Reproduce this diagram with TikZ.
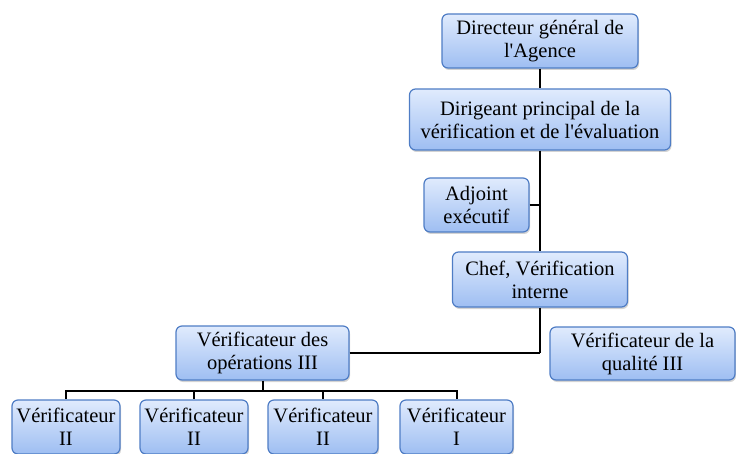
\documentclass[tikz,border=0pt]{standalone}
\usepackage{fontspec}
\setmainfont{Liberation Serif}[Ligatures=TeXOff]
\usetikzlibrary{shadows}
\definecolor{boxtop}{RGB}{224,235,253}
\definecolor{boxbot}{RGB}{158,190,242}
\definecolor{boxrim}{RGB}{79,125,197}

\begin{document}
\begin{tikzpicture}[
    x=1pt, y=-1pt,
    link/.style={draw=black, line width=2pt},
    post/.style={draw=boxrim, line width=1.2pt, rounded corners=6pt,
      top color=boxtop, bottom color=boxbot, align=center,
      font=\fontsize{20.5}{23}\selectfont, inner sep=2pt, minimum height=54pt,
      drop shadow={opacity=0.35, shadow xshift=1pt, shadow yshift=-2pt}},
  ]

  \useasboundingbox (0,0) rectangle (736,454);

  % the top of the chain
  \node[post, minimum width=196pt] (dg) at (540,41) {Directeur général de\\l'Agence};
  \node[post, minimum width=261pt, minimum height=61pt] (dp) at (540,119.5) {Dirigeant principal de la\\vérification et de l'évaluation};
  \node[post, minimum width=105pt] (adj) at (476.5,205) {Adjoint\\exécutif};
  \node[post, minimum width=175pt, minimum height=55pt] (chef) at (540,279.5) {Chef, Vérification\\interne};
  \coordinate (fork) at (540,353);

  % the two branches under the chief
  \node[post, minimum width=173pt] (ops) at (262.5,353) {Vérificateur des\\opérations III};
  \node[post, minimum width=185pt, minimum height=53pt] (qual) at (642.5,353.5) {Vérificateur de la\\qualité III};

  % the auditors
  \node[post, minimum width=108pt] (v1) at (66,427) {Vérificateur\\II};
  \node[post, minimum width=108pt] (v2) at (194,427) {Vérificateur\\II};
  \node[post, minimum width=110pt] (v3) at (323,427) {Vérificateur\\II};
  \node[post, minimum width=113pt] (v4) at (456.5,427) {Vérificateur\\I};

  \draw[link] (dg.south) -- (dp.north);
  \draw[link] (dp.south) -- (chef.north);
  \draw[link] (adj.east) -- (adj.east -| chef.north);
  \draw[link] (chef.south) -- (fork);
  \draw[link] (ops.east) -- (fork);
  \draw[link] (ops.south) -- ++(0,10) coordinate (bus);
  \foreach \v in {v1,v2,v3,v4}
    \draw[link] (bus) -| (\v.north);

\end{tikzpicture}
\end{document}
